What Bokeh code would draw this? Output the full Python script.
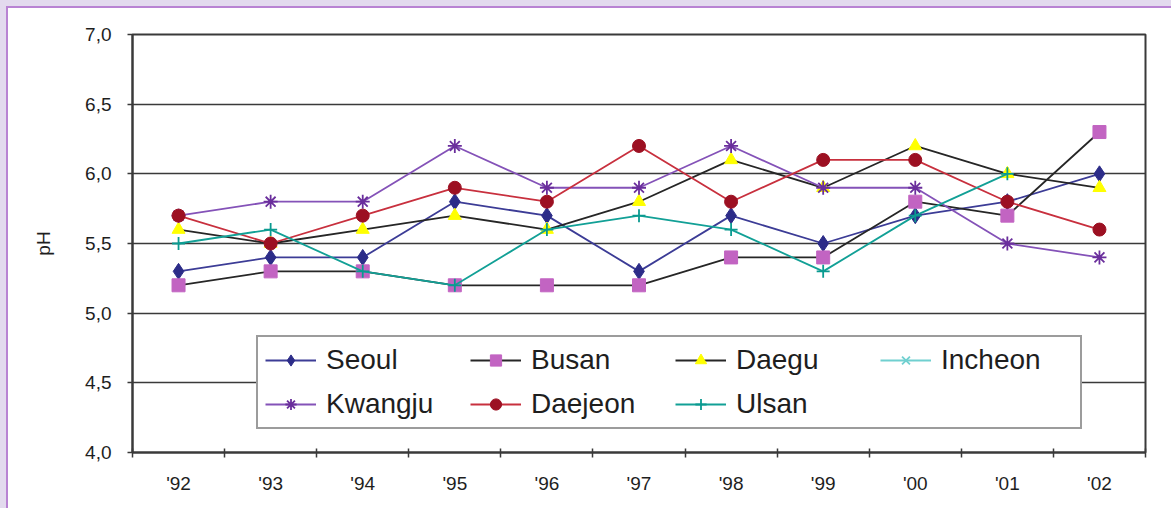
from bokeh.plotting import figure
from bokeh.models import Range1d, FixedTicker, Legend, LegendItem, ColumnDataSource
from bokeh.embed import file_html
from bokeh.resources import INLINE

nan = float("nan")

years = ["'92", "'93", "'94", "'95", "'96", "'97", "'98", "'99", "'00", "'01", "'02"]
seoul   = [5.3, 5.4, 5.4, 5.8, 5.7, 5.3, 5.7, 5.5, 5.7, 5.8, 6.0]
busan   = [5.2, 5.3, 5.3, 5.2, 5.2, 5.2, 5.4, 5.4, 5.8, 5.7, 6.3]
daegu   = [5.6, 5.5, 5.6, 5.7, 5.6, 5.8, 6.1, 5.9, 6.2, 6.0, 5.9]
incheon = [nan] * 11
kwangju = [5.7, 5.8, 5.8, 6.2, 5.9, 5.9, 6.2, 5.9, 5.9, 5.5, 5.4]
daejeon = [5.7, 5.5, 5.7, 5.9, 5.8, 6.2, 5.8, 6.1, 6.1, 5.8, 5.6]
ulsan   = [5.5, 5.6, 5.3, 5.2, 5.6, 5.7, 5.6, 5.3, 5.7, 6.0, nan]

y_ticks = [4.0, 4.5, 5.0, 5.5, 6.0, 6.5, 7.0]
y_labels = ["4,0", "4,5", "5,0", "5,5", "6,0", "6,5", "7,0"]

FONT = "Liberation Sans"
DARK = "#3a3a3a"
TXT = "#1e1e1e"

x = [i + 0.5 for i in range(len(years))]

p = figure(width=1163, height=500, output_backend="svg", toolbar_location=None,
           x_range=Range1d(0, len(years)), y_range=Range1d(4, 7),
           min_border_left=124, min_border_right=26, min_border_top=26, min_border_bottom=56)
p.background_fill_color = "white"
p.border_fill_color = "white"
p.outline_line_color = DARK
p.outline_line_width = 2

# x axis: labels at category centers, tick marks at boundaries
xt = FixedTicker(ticks=x, minor_ticks=list(range(len(years) + 1)))
p.xaxis.ticker = xt
p.xaxis.major_label_overrides = {xi: y for xi, y in zip(x, years)}
p.xaxis.major_tick_in = 0
p.xaxis.major_tick_out = 0
p.xaxis.minor_tick_in = 4
p.xaxis.minor_tick_out = 5
p.xaxis.minor_tick_line_color = DARK
p.xaxis.minor_tick_line_width = 1.5
p.xaxis.axis_line_color = DARK
p.xaxis.axis_line_width = 2
p.xaxis.major_label_standoff = 15
p.xaxis.major_label_text_font = FONT
p.xaxis.major_label_text_font_size = "19px"
p.xaxis.major_label_text_color = TXT
p.xgrid.visible = False

yt = FixedTicker(ticks=y_ticks, minor_ticks=[])
p.yaxis.ticker = yt
p.yaxis.major_label_overrides = {t: l for t, l in zip(y_ticks, y_labels)}
p.yaxis.major_tick_in = 0
p.yaxis.major_tick_out = 5
p.yaxis.major_tick_line_color = DARK
p.yaxis.major_tick_line_width = 1.5
p.yaxis.axis_line_color = DARK
p.yaxis.axis_line_width = 2
p.yaxis.major_label_standoff = 16
p.yaxis.major_label_text_font = FONT
p.yaxis.major_label_text_font_size = "19px"
p.yaxis.major_label_text_color = TXT
p.yaxis.axis_label = "pH"
p.yaxis.axis_label_text_font = FONT
p.yaxis.axis_label_text_font_size = "19px"
p.yaxis.axis_label_text_font_style = "normal"
p.yaxis.axis_label_text_color = TXT
p.yaxis.axis_label_standoff = 28
p.ygrid.ticker = yt
p.ygrid.grid_line_color = DARK
p.ygrid.grid_line_width = 1.5

series = [
    ("Seoul", seoul, "#3c3c96", "diamond", "#2c2c88", 16),
    ("Busan", busan, "#262626", "square", "#c264c2", 13),
    ("Daegu", daegu, "#262626", "triangle", "#ffff00", 13),
    ("Incheon", incheon, "#70d0d0", "x", "#70d0d0", 11),
    ("Kwangju", kwangju, "#8452b8", "asterisk", "#6a2e9c", 14),
    ("Daejeon", daejeon, "#c8303e", "circle", "#9c1022", 13),
    ("Ulsan", ulsan, "#12a096", "cross", "#0a9a90", 13),
]

items = []
for name, vals, lc, mk, mc, sz in series:
    src = ColumnDataSource(dict(x=x, y=vals))
    lr = p.line("x", "y", source=src, line_color=lc, line_width=1.8)
    if mk in ("x", "cross", "asterisk"):
        sr = p.scatter("x", "y", source=src, marker=mk, size=sz, line_color=mc, line_width=1.8)
    else:
        sr = p.scatter("x", "y", source=src, marker=mk, size=sz, fill_color=mc, line_color=mc, line_width=1)
    items.append(LegendItem(label=name, renderers=[lr, sr]))

legend = Legend(items=items, location=(124, 23), orientation="horizontal", ncols=4,
                glyph_width=51, glyph_height=28, label_standoff=10, label_width=132,
                spacing=12, padding=7, margin=0,
                label_text_font=FONT, label_text_font_size="28px", label_text_color=TXT,
                border_line_color=DARK, border_line_width=2,
                background_fill_color="white", background_fill_alpha=1.0)
p.add_layout(legend, "center")

html = file_html(p, INLINE)
style = ("<style>html{background:#e3daee !important;}"
         "body{background:#ffffff !important;margin:6px 0 0 6px !important;"
         "height:auto !important;border-left:2px solid #b983d3;border-top:2px solid #b983d3;}</style>")
html = html.replace("</head>", style + "</head>", 1)
open("out.html", "w").write(html)
